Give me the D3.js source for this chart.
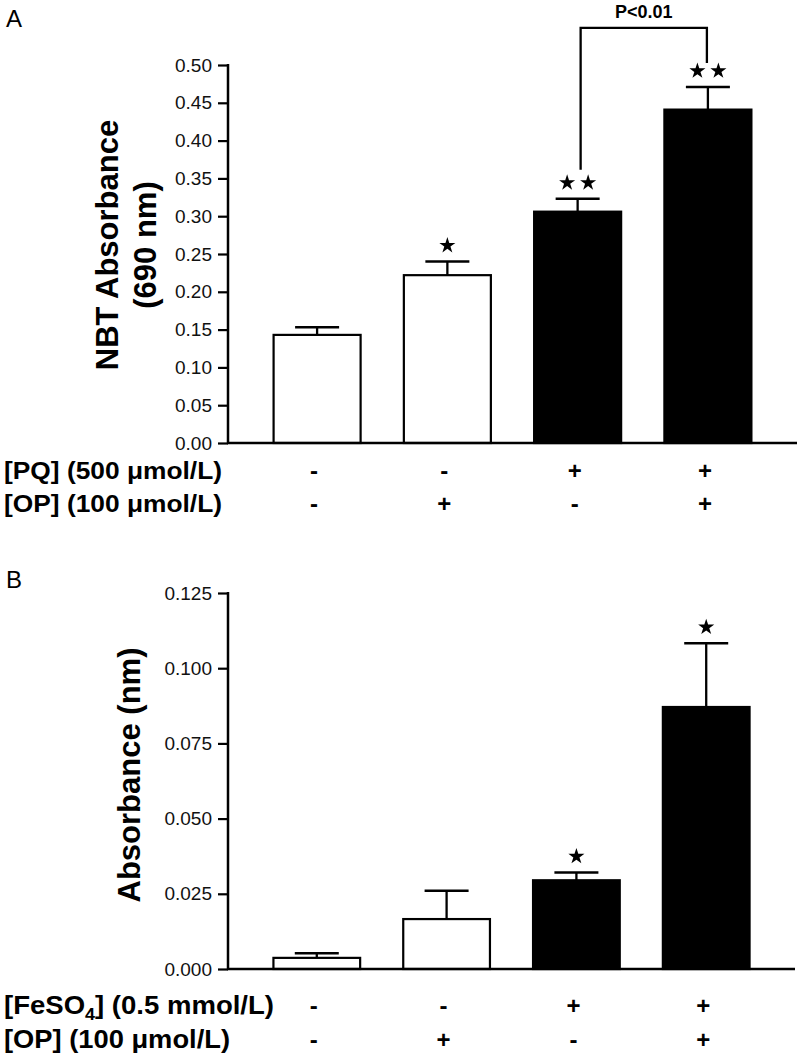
<!DOCTYPE html>
<html>
<head>
<meta charset="utf-8">
<script src="https://cdn.jsdelivr.net/npm/d3@7"></script>
<style>
  body { margin: 0; background: #fff; }
  svg { display: block; font-family: "Liberation Sans", Arial, sans-serif; }
</style>
</head>
<body>
<svg id="chart" width="800" height="1062"></svg>
<script>
// Panel A: NBT absorbance
const groups = ['ctrl', 'OP', 'PQ', 'PQ+OP'];
const meansA = [0.143, 0.222, 0.306, 0.441];
const errA = [0.010, 0.018, 0.017, 0.030];
const starsA = [0, 1, 2, 2];
const fillsA = ['#fff', '#fff', '#000', '#000'];
const pqRow = ['-', '-', '+', '+'];
const opRowA = ['-', '+', '-', '+'];
const ticksA = [0, 0.05, 0.10, 0.15, 0.20, 0.25, 0.30, 0.35, 0.40, 0.45, 0.50];

// Panel B: absorbance with FeSO4
const meansB = [0.0037, 0.0166, 0.0295, 0.0871];
const errB = [0.0015, 0.0094, 0.0026, 0.0212];
const starsB = [0, 0, 1, 1];
const fillsB = ['#fff', '#fff', '#000', '#000'];
const feRow = ['-', '-', '+', '+'];
const opRowB = ['-', '+', '-', '+'];
const ticksB = [0, 0.025, 0.050, 0.075, 0.100, 0.125];

const svg = d3.select('#chart');
const star = d3.symbol().type(d3.symbolStar).size(80);

function drawPanel(opt) {
    const g = svg.append('g');
    const x = d3.scaleBand().domain(groups)
        .range([228, opt.xEnd]).paddingInner(0.332).paddingOuter(0.35);
    const y = d3.scaleLinear().domain([0, opt.max]).range([opt.y0, opt.y1]);

    // panel letter
    g.append('text').attr('x', 6).attr('y', opt.letterY)
        .attr('font-size', 24).text(opt.letter);

    // bars
    g.selectAll('rect.bar').data(opt.means).enter().append('rect')
        .attr('class', 'bar')
        .attr('x', (d, i) => x(groups[i]))
        .attr('y', d => y(d))
        .attr('width', x.bandwidth())
        .attr('height', d => y(0) - y(d))
        .attr('fill', (d, i) => opt.fills[i])
        .attr('stroke', '#000').attr('stroke-width', 2.2);

    // error bars (upper only)
    const cx = i => x(groups[i]) + x.bandwidth() / 2;
    opt.means.forEach((m, i) => {
        const top = y(m + opt.err[i]);
        g.append('line').attr('x1', cx(i)).attr('x2', cx(i))
            .attr('y1', y(m)).attr('y2', top)
            .attr('stroke', '#000').attr('stroke-width', 2.3);
        g.append('line').attr('x1', cx(i) - 22).attr('x2', cx(i) + 22)
            .attr('y1', top).attr('y2', top)
            .attr('stroke', '#000').attr('stroke-width', 2.5);
        const n = opt.stars[i];
        for (let k = 0; k < n; k++) {
            const sx = cx(i) + (k - (n - 1) / 2) * 21;
            g.append('path').attr('d', star)
                .attr('transform', `translate(${sx},${top - 16})`)
                .attr('fill', '#000');
        }
    });

    // axes
    const yAxis = d3.axisLeft(y).tickValues(opt.ticks).tickSize(10).tickPadding(6)
        .tickFormat(d3.format(opt.fmt));
    const ya = g.append('g').attr('transform', 'translate(228,0)').call(yAxis);
    ya.select('.domain').remove();
    ya.selectAll('.tick line').attr('stroke', '#000').attr('stroke-width', 2.2);
    ya.selectAll('.tick text').attr('font-size', 19).attr('fill', '#111')
        .attr('font-family', '"Liberation Sans", Arial, sans-serif');
    g.append('line').attr('x1', 228).attr('x2', 228)
        .attr('y1', y(opt.max) - 1).attr('y2', y(0) + 1)
        .attr('stroke', '#000').attr('stroke-width', 2.5);
    g.append('line').attr('x1', 227).attr('x2', opt.xEnd)
        .attr('y1', y(0)).attr('y2', y(0))
        .attr('stroke', '#000').attr('stroke-width', 2.5);

    // y title
    const tc = (opt.y0 + opt.y1) / 2 - opt.titleShift;
    opt.title.forEach((t, j) => {
        g.append('text')
            .attr('transform', `translate(${opt.titleX[j]},${tc}) rotate(-90)`)
            .attr('text-anchor', 'middle').attr('font-size', 31)
            .attr('font-weight', 'bold').text(t);
    });

    // treatment rows
    opt.rows.forEach((row, r) => {
        const lab = g.append('text').attr('x', 4).attr('y', row.y)
            .attr('font-size', opt.rowFont).attr('font-weight', 'bold')
            .attr('textLength', row.len).attr('lengthAdjust', 'spacingAndGlyphs');
        row.label.forEach(p => {
            const ts = lab.append('tspan').text(p.t);
            if (p.sub) ts.attr('font-size', opt.rowFont * 0.65).attr('dy', 6);
            if (p.up) ts.attr('dy', -6);
        });
        g.selectAll(null).data(row.signs).enter().append('text')
            .attr('x', (d, i) => cx(i) - 3)
            .attr('y', row.y)
            .attr('text-anchor', 'middle')
            .attr('font-size', 24).attr('font-weight', 'bold')
            .text(d => d);
    });
    return { x, y, cx };
}

const pA = drawPanel({
    letter: 'A', letterY: 27, max: 0.5, y0: 443, y1: 65, xEnd: 797,
    means: meansA, err: errA, stars: starsA, fills: fillsA, ticks: ticksA, fmt: '.2f',
    title: ['NBT Absorbance', '(690 nm)'], titleX: [118, 156], titleShift: 9,
    rowFont: 23,
    rows: [
        { y: 479, len: 218, label: [{ t: '[PQ] (500 μmol/L)' }], signs: pqRow },
        { y: 512, len: 218, label: [{ t: '[OP] (100 μmol/L)' }], signs: opRowA }
    ]
});

// significance bracket between PQ and PQ+OP
const bx1 = pA.cx(2) + 3, bx2 = pA.cx(3) - 1;
const by = pA.y(0.549);
const bracket = d3.path();
bracket.moveTo(bx1, pA.y(meansA[2] + errA[2]) - 29);
bracket.lineTo(bx1, by);
bracket.lineTo(bx2, by);
bracket.lineTo(bx2, pA.y(meansA[3] + errA[3]) - 24);
svg.append('path').attr('d', bracket.toString())
    .attr('fill', 'none').attr('stroke', '#000').attr('stroke-width', 2.3);
svg.append('text').attr('x', (bx1 + bx2) / 2).attr('y', 18)
    .attr('text-anchor', 'middle').attr('font-size', 18).attr('font-weight', 'bold')
    .text('P<0.01');

drawPanel({
    letter: 'B', letterY: 588, max: 0.125, y0: 969, y1: 593, xEnd: 795,
    means: meansB, err: errB, stars: starsB, fills: fillsB, ticks: ticksB, fmt: '.3f',
    title: ['Absorbance (nm)'], titleX: [140], titleShift: 6,
    rowFont: 25,
    rows: [
        { y: 1014, len: 270, label: [{ t: '[FeSO' }, { t: '4', sub: true }, { t: '] (0.5 mmol/L)', up: true }], signs: feRow },
        { y: 1048, len: 226, label: [{ t: '[OP] (100 μmol/L)' }], signs: opRowB }
    ]
});
</script>
</body>
</html>
